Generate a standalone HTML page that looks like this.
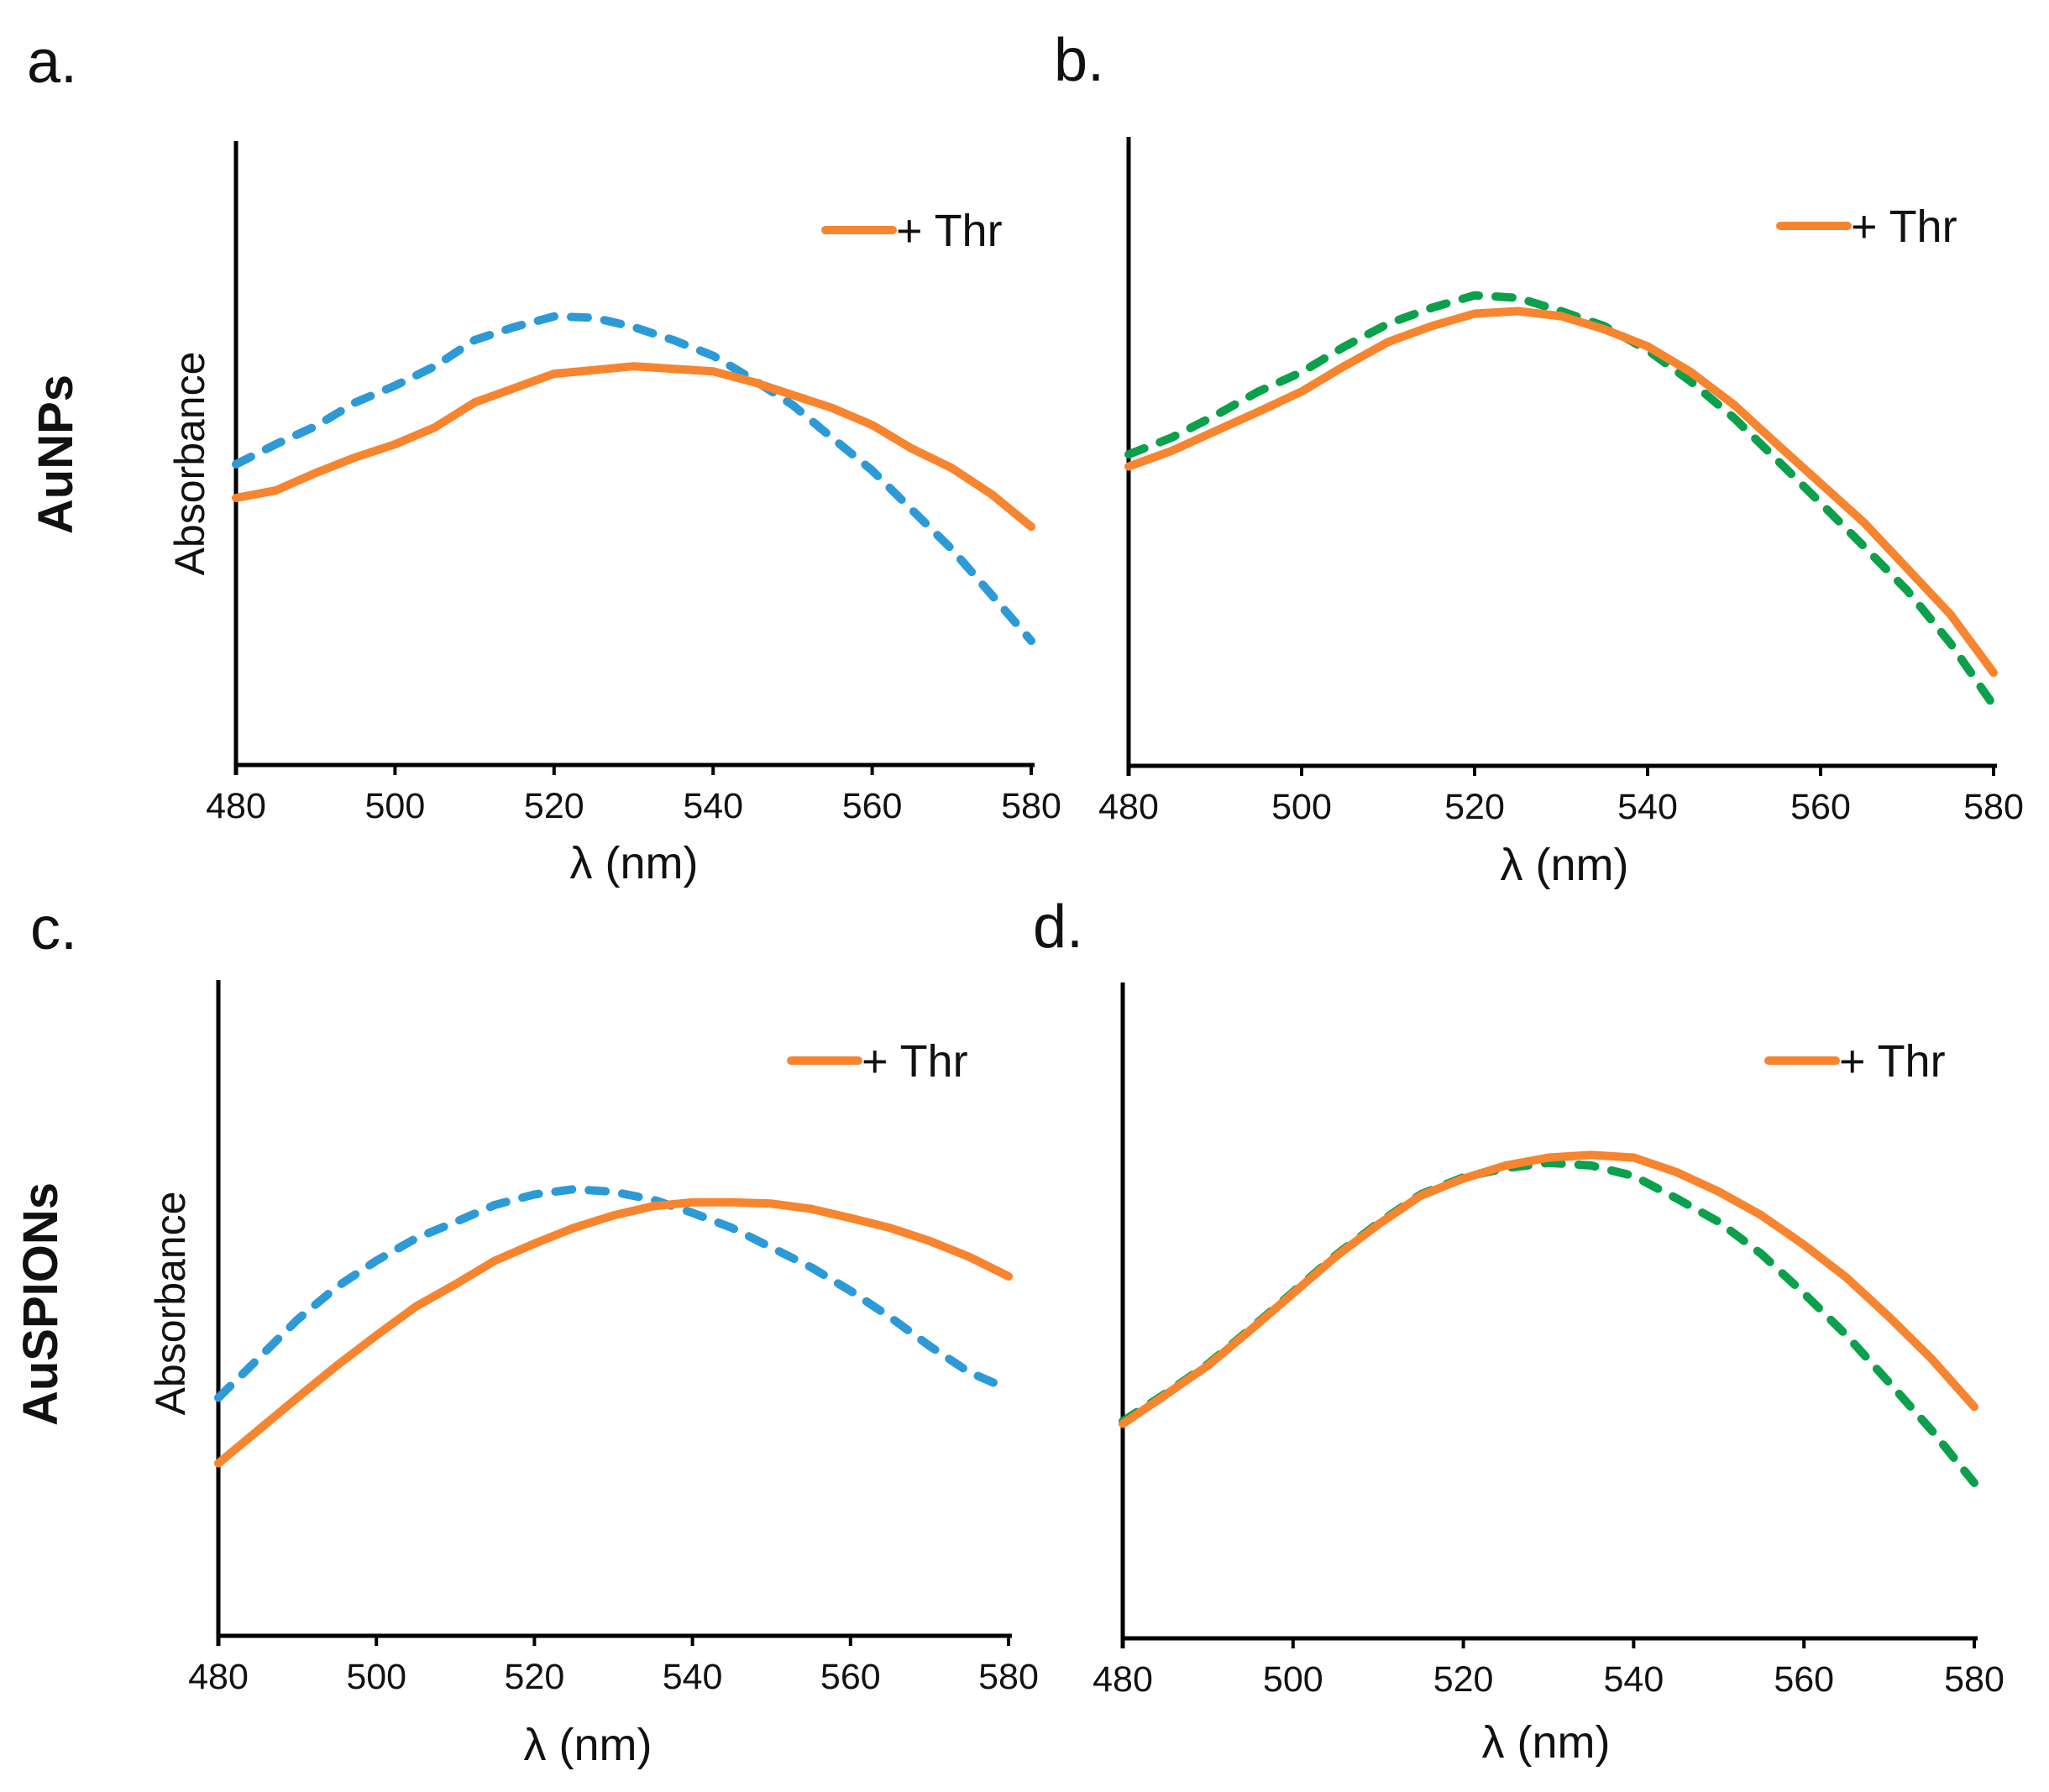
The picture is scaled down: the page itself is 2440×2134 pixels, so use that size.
<!DOCTYPE html>
<html><head><meta charset="utf-8"><style>
html,body{margin:0;padding:0;background:#fff}
svg{display:block}
text{font-family:"Liberation Sans",Arial,sans-serif;fill:#111}
</style></head><body>
<svg id="fig" width="2440" height="2134" viewBox="0 0 2440 2134" xmlns="http://www.w3.org/2000/svg">
<text x="32" y="98" font-size="72">a.</text>
<text x="1255" y="96" font-size="72">b.</text>
<text x="36" y="1130" font-size="72">c.</text>
<text x="1230" y="1128" font-size="72">d.</text>
<text transform="translate(86,541) rotate(-90)" text-anchor="middle" font-size="58" font-weight="bold">AuNPs</text>
<text transform="translate(68,1553) rotate(-90)" text-anchor="middle" font-size="58" font-weight="bold">AuSPIONs</text>
<g id="plots"></g>
</svg>
<script>
const wavelengths = [480,485,490,495,500,505,510,515,520,525,530,535,540,545,550,555,560,565,570,575,580];
const xTicks = [480,500,520,540,560,580];
const aOrange = [42.8,44.0,46.8,49.3,51.4,54.1,58.1,60.4,62.7,63.3,63.9,63.5,63.1,61.4,59.3,57.2,54.5,50.7,47.6,43.4,38.2];
const aBlue = [48.2,51.4,54.3,58.1,60.8,63.9,68.1,70.2,71.9,71.7,70.2,68.1,65.6,61.8,57.7,52.4,47.2,40.9,34.6,27.3,19.9];
const bOrange = [47.6,50.1,53.2,56.3,59.5,63.6,67.4,69.9,71.9,72.3,71.5,69.4,66.7,62.6,57.4,51.1,44.9,38.7,31.4,24.1,14.8];
const bGreen = [49.5,52.2,55.7,59.5,62.6,66.7,70.3,72.8,74.8,74.4,72.3,69.9,66.1,61.1,55.3,48.6,41.8,34.9,27.9,19.5,9.6];
const cOrange = [26.3,31.3,36.3,41.2,45.8,50.2,53.6,57.2,59.8,62.2,64.1,65.5,66.1,66.1,65.9,65.1,63.7,62.2,60.2,57.8,54.8];
const cBlue = [36.3,42.2,48.2,53.2,57.2,60.6,63.1,65.7,67.3,68.1,67.7,66.5,64.5,62.2,59.2,56.2,52.6,48.6,44.2,40.2,37.6];
const dOrange = [32.7,37.1,41.6,47.0,52.6,58.2,63.1,67.5,70.1,72.1,73.3,73.7,73.3,71.1,68.1,64.5,60.0,55.0,49.0,42.6,35.3];
const dGreen = [33.1,37.3,41.8,47.2,52.8,58.4,63.3,67.7,70.3,71.7,72.5,72.1,70.5,67.1,63.5,58.6,52.6,46.2,39.0,31.7,23.7];

const NS = "http://www.w3.org/2000/svg";
const root = document.getElementById('plots');
function mk(tag, attrs, parent){
  const e = document.createElementNS(NS, tag);
  for (const k in attrs) e.setAttribute(k, attrs[k]);
  parent.appendChild(e);
  return e;
}
function panel(id, box, series, legend, showAbs){
  const g = mk('g', {}, root);
  
  
  const xs = v => box.x0 + (v - 480) / 100 * (box.x1 - box.x0);
  const ys = v => box.bot - v / 100 * (box.bot - box.top);
  const yax = mk('line', {x1:box.x0, y1:box.top, x2:box.x0, y2:box.bot+12, stroke:'#000','stroke-width':5}, g);
  
  
  const xax = mk('line', {x1:box.x0, y1:box.bot, x2:box.x1+4, y2:box.bot, stroke:'#000','stroke-width':5}, g);
  
  
  xTicks.forEach(t => {
    const tk = mk('line', {x1:xs(t), y1:box.bot, x2:xs(t), y2:box.bot+12, stroke:'#000','stroke-width':4}, g);
    
    
    const tl = mk('text', {x:xs(t), y:box.bot+63, 'text-anchor':'middle','font-size':43}, g);
    tl.textContent = t;
    
    
  });
  const xt = mk('text', {x:box.lx, y:box.ly+2, 'text-anchor':'middle','font-size':54}, g);
  xt.textContent = 'λ (nm)';
  
  
  if (showAbs){
    const yt = mk('text', {transform:'translate('+box.ax+','+box.ay+') rotate(-90)', 'text-anchor':'middle','font-size':50}, g);
    yt.textContent = 'Absorbance';
    
    
  }
  series.forEach(s => {
    const pts = wavelengths.map((w,i) => xs(w).toFixed(1) + ',' + ys(s.vals[i]).toFixed(1)).join(' ');
    const attrs = {points:pts, fill:'none', stroke:s.color, 'stroke-width':10, 'stroke-linejoin':'round', 'stroke-linecap':'round'};
    if (s.dash) attrs['stroke-dasharray'] = '20 20';
    const pl = mk('polyline', attrs, g);
    
    
  });
  const lg = mk('g', {}, g);
  
  
  mk('line', {x1:legend.x, y1:legend.y, x2:legend.x+80, y2:legend.y, stroke:'#f7842f','stroke-width':10,'stroke-linecap':'round'}, lg);
  const lt = mk('text', {x:legend.x+84, y:legend.y+19, 'font-size':54}, lg);
  lt.textContent = '+ Thr';
}
panel('a', {x0:281,x1:1228,top:168,bot:911,lx:755,ly:1044,ax:243,ay:552},
  [{vals:aBlue,color:'#2c9ad6',dash:true,name:'series-control-a'},{vals:aOrange,color:'#f7842f',name:'series-thr-a'}],
  {x:983,y:274}, true);
panel('b', {x0:1344,x1:2374,top:163,bot:912,lx:1863,ly:1046,ax:0,ay:0},
  [{vals:bGreen,color:'#0ba04c',dash:true,name:'series-control-b'},{vals:bOrange,color:'#f7842f',name:'series-thr-b'}],
  {x:2120,y:269}, false);
panel('c', {x0:260,x1:1201,top:1167,bot:1948,lx:700,ly:2094,ax:220,ay:1552},
  [{vals:cBlue,color:'#2c9ad6',dash:true,name:'series-control-c'},{vals:cOrange,color:'#f7842f',name:'series-thr-c'}],
  {x:942,y:1263}, true);
panel('d', {x0:1337,x1:2351,top:1170,bot:1951,lx:1841,ly:2091,ax:0,ay:0},
  [{vals:dGreen,color:'#0ba04c',dash:true,name:'series-control-d'},{vals:dOrange,color:'#f7842f',name:'series-thr-d'}],
  {x:2106,y:1263}, false);
</script>
</body></html>
